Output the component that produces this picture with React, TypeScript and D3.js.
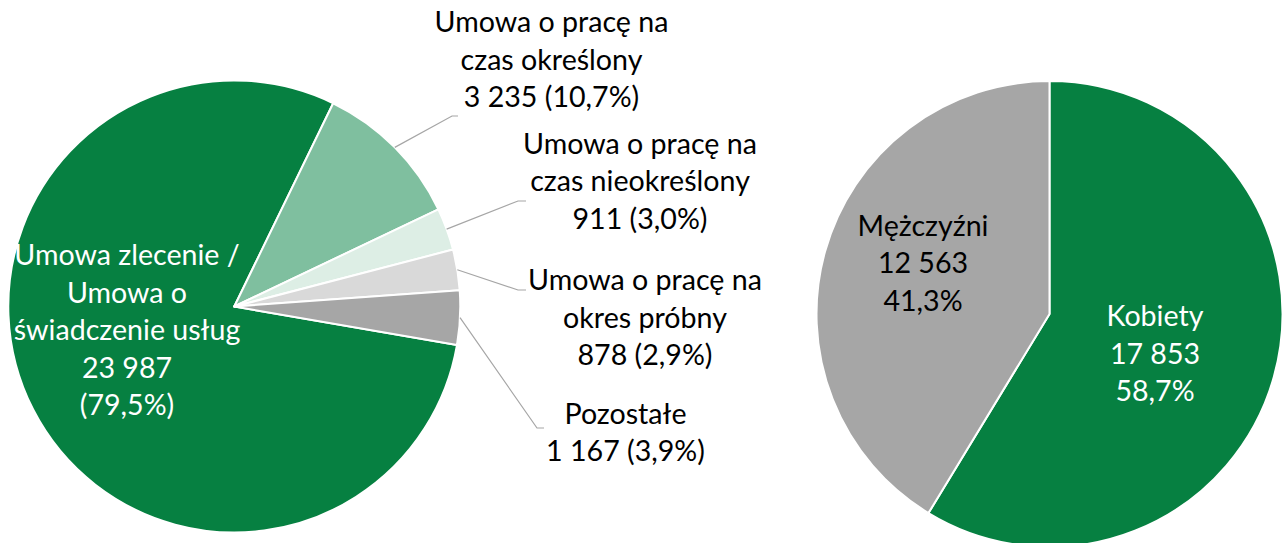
import React from "react";
import * as d3 from "d3";

// ---- Data ----
const contractCategories = [
  "Umowa zlecenie / Umowa o świadczenie usług",
  "Umowa o pracę na czas określony",
  "Umowa o pracę na czas nieokreślony",
  "Umowa o pracę na okres próbny",
  "Pozostałe",
];
const contractLabelLines = [
  ["Umowa zlecenie /", "Umowa o", "świadczenie usług"],
  ["Umowa o pracę na", "czas określony"],
  ["Umowa o pracę na", "czas nieokreślony"],
  ["Umowa o pracę na", "okres próbny"],
  ["Pozostałe"],
];
const contractValues = [23987, 3235, 911, 878, 1167];

const genderCategories = ["Kobiety", "Mężczyźni"];
const genderValues = [17853, 12563];

// ---- Styles / layout ----
const contractColors = ["#068041", "#7fbf9f", "#ddeee5", "#d9d9d9", "#a6a6a6"];
const genderColors = ["#068041", "#a6a6a6"];
const FONT = "Lato, 'Noto Sans', sans-serif";
const FS = 28.6;
const LH = 37.5;

const leftPie = { cx: 234.3, cy: 306.5, r: 226, start: 99.8 };
const rightPie = { cx: 1049.5, cy: 314, r: 233, start: 0 };

const leftLabelLayout: Record<number, { x: number; y: number; ex?: number; ey?: number; endX?: number; inside?: boolean }> = {
  0: { x: 127, y: 265, inside: true },
  1: { x: 551.5, y: 32, ex: 452, ey: 116, endX: 458 },
  2: { x: 640, y: 153.5, ex: 518, ey: 201, endX: 526 },
  3: { x: 645, y: 290, ex: 518, ey: 290, endX: 526 },
  4: { x: 625.5, y: 423.5, ex: 537, ey: 428, endX: 544 },
};
const rightLabelLayout = [
  { x: 1155, y: 326, color: "#ffffff" },
  { x: 923, y: 235.5, color: "#000000" },
];

const locale = d3.formatLocale({ decimal: ",", thousands: "\u00a0", grouping: [3], currency: ["", " zł"] });
const fmtNum = locale.format(",d");
const fmtPct = (v: number) => locale.format(".1f")(v * 100) + "%";

export default function App() {
  const rad = (deg: number) => (deg * Math.PI) / 180;

  const leftArcs = d3
    .pie<number>()
    .sort(null)
    .value((d) => d)
    .startAngle(rad(leftPie.start))
    .endAngle(rad(leftPie.start) + 2 * Math.PI)(contractValues);
  const rightArcs = d3
    .pie<number>()
    .sort(null)
    .value((d) => d)
    .startAngle(rad(rightPie.start))
    .endAngle(rad(rightPie.start) + 2 * Math.PI)(genderValues);

  const arcL = d3.arc<d3.PieArcDatum<number>>().innerRadius(0).outerRadius(leftPie.r);
  const arcR = d3.arc<d3.PieArcDatum<number>>().innerRadius(0).outerRadius(rightPie.r);

  const leftTotal = d3.sum(contractValues);
  const rightTotal = d3.sum(genderValues);

  return (
    <svg
      width={1282}
      height={543}
      style={{ position: "absolute", left: 0, top: 0, background: "#fff" }}
      fontFamily={FONT}
      fontSize={FS}
    >
      <rect width={1282} height={543} fill="#fff" />
      <g transform={`translate(${leftPie.cx},${leftPie.cy})`}>
        {leftArcs.map((a, i) => (
          <path key={i} d={arcL(a) || ""} fill={contractColors[i]} stroke="#fff" strokeWidth={2} strokeLinejoin="round" />
        ))}
      </g>
      {leftArcs.map((a, i) => {
        const L = leftLabelLayout[i];
        const pct = fmtPct(a.value / leftTotal);
        if (L.inside) {
          const lines = [...contractLabelLines[i], fmtNum(a.value), `(${pct})`];
          return (
            <text key={i} textAnchor="middle" fill="#fff">
              {lines.map((t, j) => (
                <tspan key={j} x={L.x} y={L.y + j * LH}>
                  {t}
                </tspan>
              ))}
            </text>
          );
        }
        const mid = (a.startAngle + a.endAngle) / 2;
        const sx = leftPie.cx + leftPie.r * Math.sin(mid);
        const sy = leftPie.cy - leftPie.r * Math.cos(mid);
        const lines = [...contractLabelLines[i], `${fmtNum(a.value)} (${pct})`];
        return (
          <g key={i}>
            <polyline
              points={`${sx},${sy} ${L.ex},${L.ey} ${L.endX},${L.ey}`}
              fill="none"
              stroke="#a6a6a6"
              strokeWidth={1.2}
            />
            <text textAnchor="middle" fill="#000">
              {lines.map((t, j) => (
                <tspan key={j} x={L.x} y={L.y + j * LH}>
                  {t}
                </tspan>
              ))}
            </text>
          </g>
        );
      })}

      <g transform={`translate(${rightPie.cx},${rightPie.cy})`}>
        {rightArcs.map((a, i) => (
          <path key={i} d={arcR(a) || ""} fill={genderColors[i]} stroke="#fff" strokeWidth={2} strokeLinejoin="round" />
        ))}
      </g>
      {rightArcs.map((a, i) => {
        const L = rightLabelLayout[i];
        const lines = [genderCategories[i], fmtNum(a.value), fmtPct(a.value / rightTotal)];
        return (
          <text key={i} textAnchor="middle" fill={L.color}>
            {lines.map((t, j) => (
              <tspan key={j} x={L.x} y={L.y + j * LH}>
                {t}
              </tspan>
            ))}
          </text>
        );
      })}
    </svg>
  );
}
